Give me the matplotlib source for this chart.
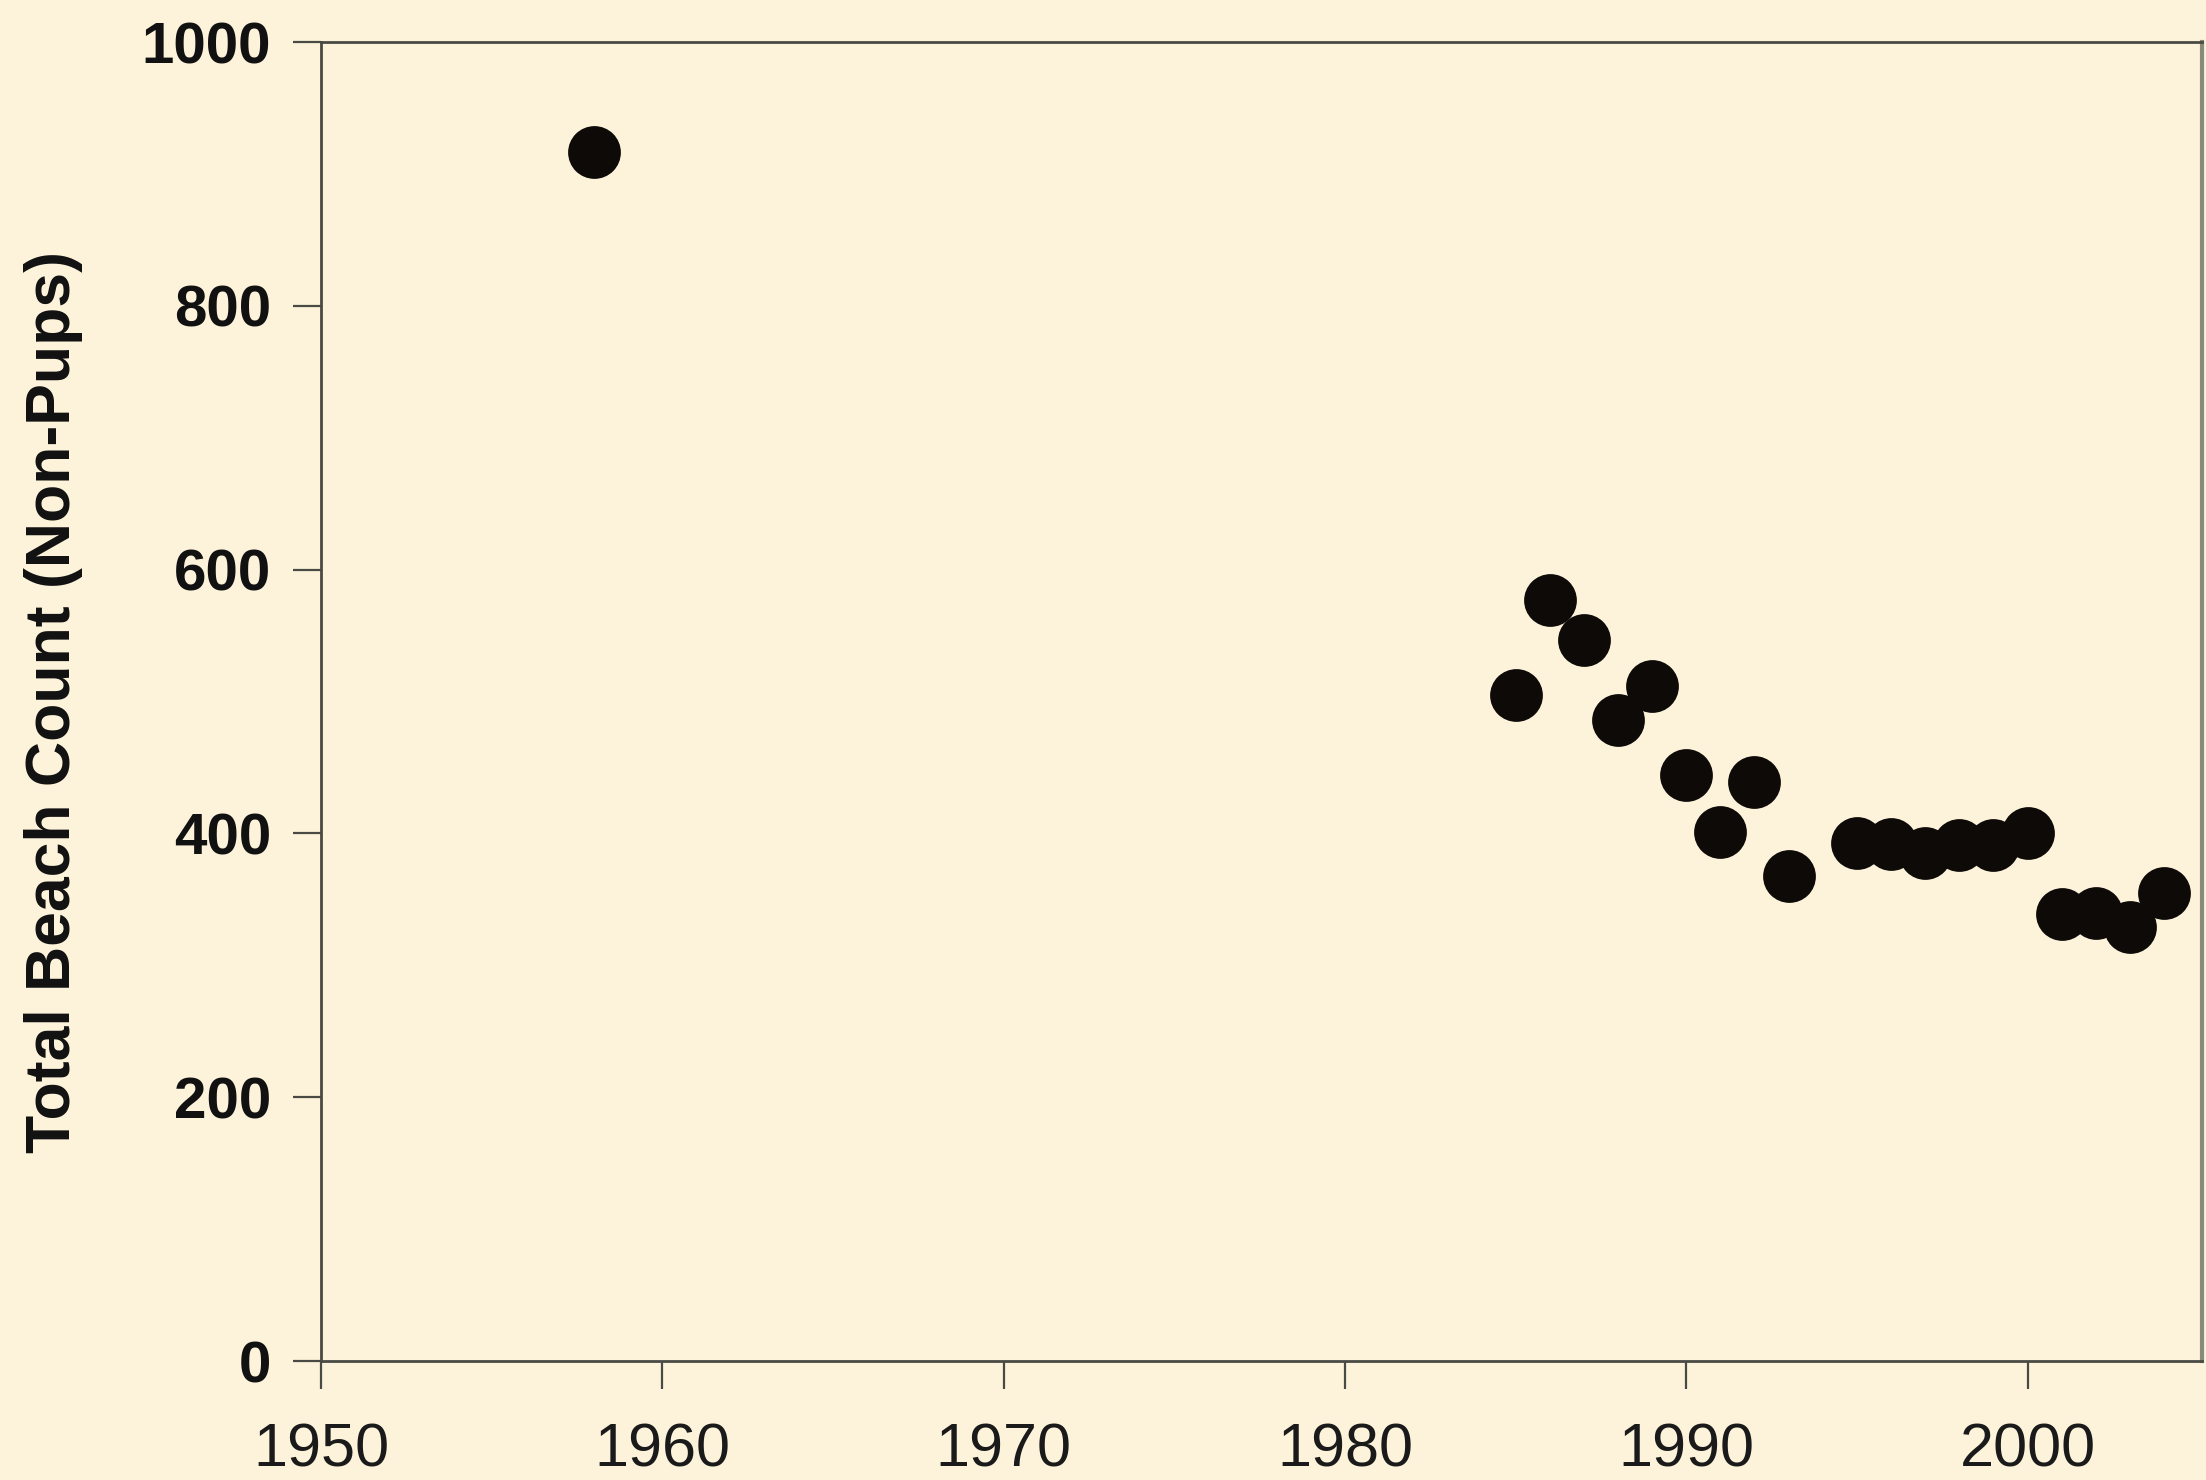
import matplotlib
matplotlib.use("Agg")
import matplotlib.pyplot as plt

# ── Data ──────────────────────────────────────────────────────────────────────
years = [1958, 1985, 1986, 1987, 1988, 1989, 1990, 1991, 1992, 1993,
         1995, 1996, 1997, 1998, 1999, 2000, 2001, 2002, 2003, 2004]
counts = [917, 505, 577, 547, 486, 512, 444, 401, 439, 368,
          393, 392, 385, 391, 391, 400, 339, 340, 329, 355]

x_ticks = [1950, 1960, 1970, 1980, 1990, 2000]
y_ticks = [0, 200, 400, 600, 800, 1000]

BG = "#FDF3DB"
SPINE = "#4a4a44"

plt.rcParams["font.family"] = ["Liberation Sans", "DejaVu Sans"]

fig = plt.figure(figsize=(22.06, 14.80), dpi=100, facecolor=BG)
ax = fig.add_axes([0.1455, 0.0804, 0.8525, 0.8912], facecolor=BG)

ax.plot(years, counts, "o", color="#0d0a08", markersize=38, markeredgewidth=0)

ax.set_xlim(1950, 2005.1)
ax.set_ylim(0, 1000)
ax.set_xticks(x_ticks)
ax.set_yticks(y_ticks)
ax.set_xticklabels([str(t) for t in x_ticks], fontsize=44, color="#1a1a1a")
ax.set_yticklabels([str(t) for t in y_ticks], fontsize=42, fontweight="bold",
                   color="#111111")
ax.tick_params(axis="both", direction="out", length=20, width=1.6,
               color=SPINE)
ax.tick_params(axis="x", pad=24)
ax.tick_params(axis="y", pad=16)

for side in ["left", "bottom", "top"]:
    ax.spines[side].set_color(SPINE)
    ax.spines[side].set_linewidth(2.0)
ax.spines["right"].set_color("#8a8a7a")
ax.spines["right"].set_linewidth(3.0)

ax.set_ylabel("Total Beach Count (Non-Pups)", fontsize=45, fontweight="bold",
              color="#111111", labelpad=42)

fig.savefig("out.png", dpi=100, facecolor=BG)
